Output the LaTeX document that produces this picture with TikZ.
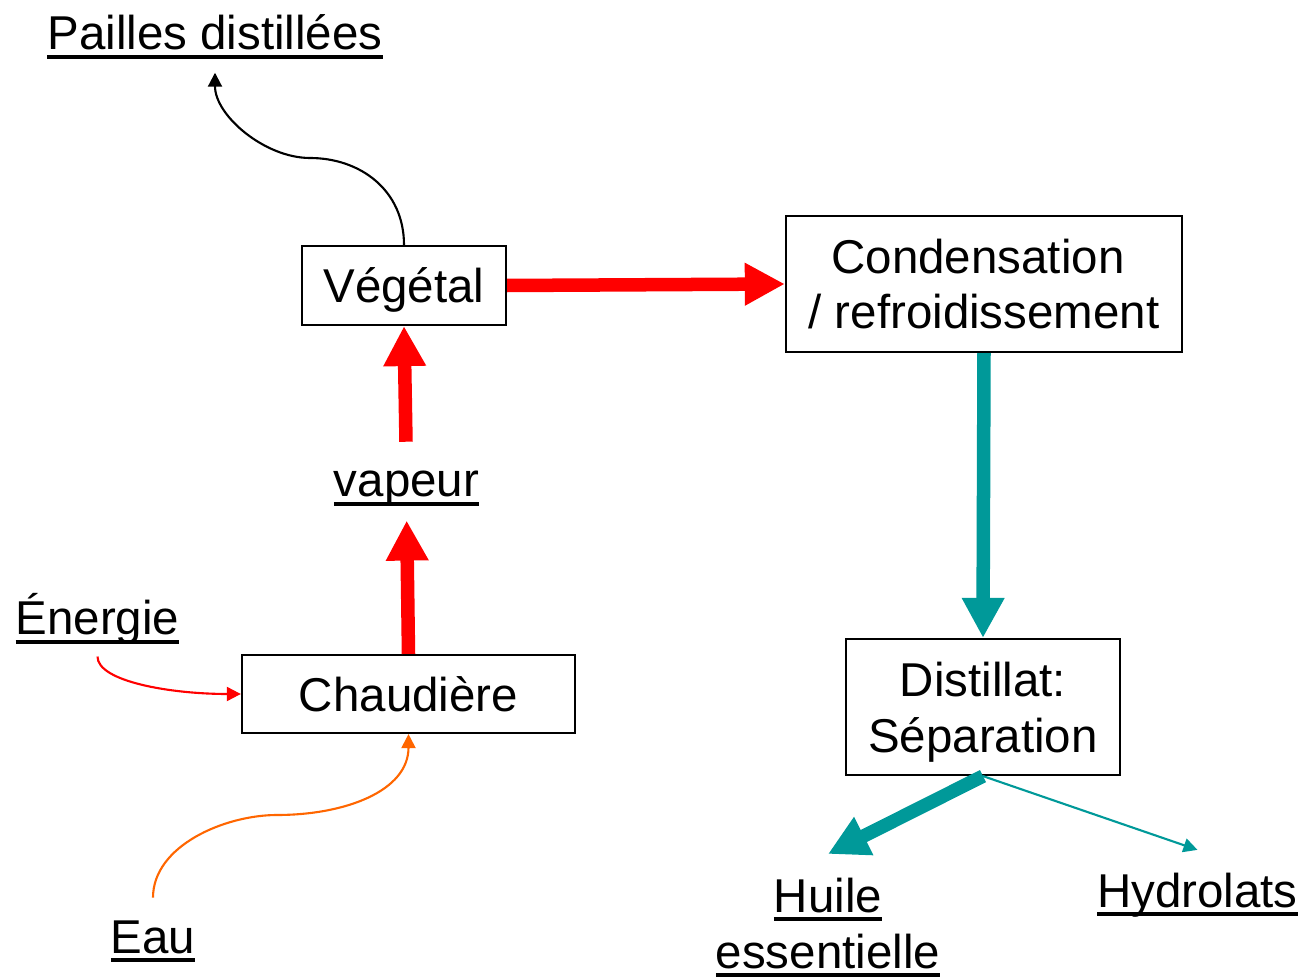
\documentclass[tikz,border=0pt]{standalone}
\usepackage{fontspec}
\setmainfont{Liberation Sans}
\usetikzlibrary{arrows.meta}
\definecolor{bleuvert}{HTML}{009999}
\definecolor{orangevif}{HTML}{FF6600}
\newcommand{\souligne}[1]{{\setbox0\hbox{#1}\rlap{\rule[-0.19em]{\wd0}{0.08em}}\box0}}
\begin{document}
\begin{tikzpicture}[
    x=0.01cm, y=-0.01cm,
    every node/.style={font=\fontsize{13.5}{15.9}\selectfont},
    block/.style={rectangle, draw, line width=0.6pt, inner sep=0pt, align=center},
    textlabel/.style={inner sep=0pt, align=center},
    bigarrow/.style={line width=0.135cm, -{Triangle[length=0.4cm, width=0.4cm]}},
    thinarrow/.style={line width=0.6pt, -{Triangle[length=0.14cm, width=0.14cm]}}
]
    \useasboundingbox (0,0) rectangle (1305,979);

    \node [block, minimum width=2.04cm, minimum height=0.79cm, text depth=0pt] (vegetal) at (404,285.5) {Végétal};
    \node [block, minimum width=3.96cm, minimum height=1.36cm] (condensation) at (984,284) {Condensation\kern0.12cm\\/ refroidissement};
    \node [block, minimum width=3.33cm, minimum height=0.78cm] (chaudiere) at (408.5,694) {Chaudière};
    \node [block, minimum width=2.74cm, minimum height=1.36cm, text depth=0pt] (distillat) at (983,707) {Distillat:\\Séparation};

    \node [textlabel, anchor=base] (pailles) at (215,50) {\souligne{Pailles distillées}};
    \node [textlabel, anchor=base] (vapeur) at (406.5,497) {\souligne{vapeur}};
    \node [textlabel, anchor=base] (energie) at (97.5,635) {\souligne{Énergie}};
    \node [textlabel, anchor=base] (eau) at (153,953) {\souligne{Eau}};
    \node [textlabel, anchor=north] (huile) at (828,877) {\souligne{Huile}\\\souligne{essentielle}};
    \node [textlabel, anchor=base] (hydrolats) at (1197.5,907) {\souligne{Hydrolats}};

    \draw [bigarrow, red] (vegetal.east) -- (condensation.west);
    \draw [bigarrow, red, shorten <=0.29cm] (vapeur.north) -- (vegetal.south);
    \draw [bigarrow, red, shorten >=0.13cm] (chaudiere.north) -- (vapeur.south);
    \draw [bigarrow, bleuvert] (condensation.south) -- (distillat.north);
    \draw [bigarrow, bleuvert] (distillat.south) -- ([yshift=0.23cm]huile.north);
    \draw [thinarrow, bleuvert] (distillat.south) -- ([yshift=0.22cm]hydrolats.north);

    % courbes fines
    \draw [thinarrow, black] (vegetal.north) .. controls +(0,-55) and +(50,0) .. (310,158)
        .. controls +(-45,0) and +(0,43) .. ([yshift=-0.13cm]pailles.south);
    \draw [thinarrow, red] ([yshift=-0.11cm]energie.south) .. controls +(0,25) and +(-70,0) .. (chaudiere.west);
    \draw [thinarrow, orangevif] ([yshift=0.22cm]eau.north) .. controls +(0,-52) and +(-52,0) .. (277,815)
        .. controls +(68,0) and +(0,57) .. (chaudiere.south);
\end{tikzpicture}
\end{document}
